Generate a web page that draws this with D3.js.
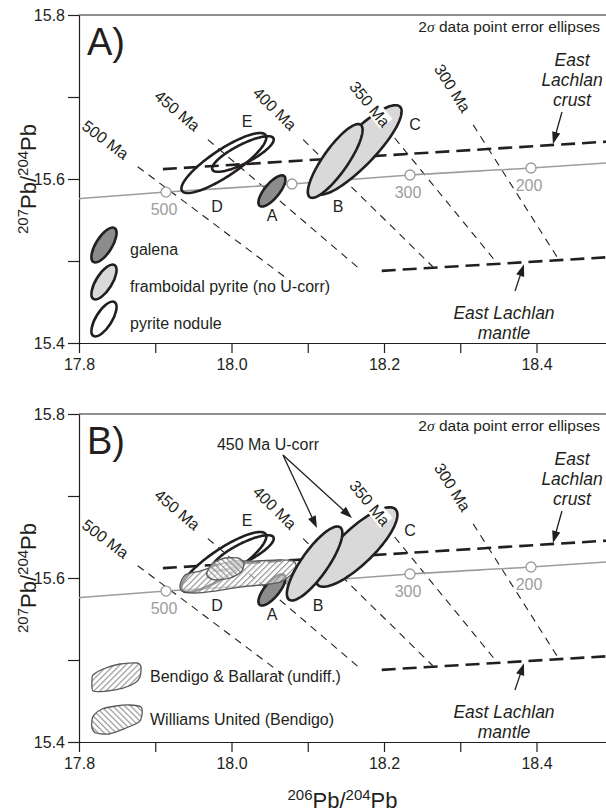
<!DOCTYPE html>
<html>
<head>
<meta charset="utf-8">
<script src="https://cdn.jsdelivr.net/npm/d3@7"></script>
<style>
  body { margin: 0; background: #fff; }
  svg { display: block; font-family: "Liberation Sans", Arial, Helvetica, sans-serif; }
</style>
</head>
<body>
<svg id="chart" width="606" height="812"></svg>
<script>
// ---------- axis ticks ----------
const xTicks = [17.8, 17.9, 18.0, 18.1, 18.2, 18.3, 18.4, 18.5];
const xTickLabels = ["17.8", "", "18.0", "", "18.2", "", "18.4", ""];
const yTicks = [15.4, 15.5, 15.6, 15.7, 15.8];
const yTickLabels = ["15.4", "", "15.6", "", "15.8"];

// ---------- Pb growth model (ages in Ma) ----------
const growthAge = [500, 400, 300, 200];
const growth206 = [17.9141, 18.0793, 18.2341, 18.3928];
const growth207 = [15.5841, 15.5939, 15.6049, 15.6134];
const growthLabelled = [true, false, true, true];
const growthEnd206 = [17.8, 18.5];
const growthEnd207 = [15.576, 15.620];

// ---------- model-age lines ----------
const isoAge = [500, 450, 400, 350, 300];
const isoUpper206 = [17.877, 17.969, 18.094, 18.214, 18.317];
const isoUpper207 = [15.615, 15.648, 15.648, 15.650, 15.666];
const isoLower206 = [18.070, 18.171, 18.264, 18.348, 18.4295];
const isoLower207 = [15.4805, 15.488, 15.493, 15.4976, 15.5012];

// ---------- East Lachlan reservoirs ----------
const crust206 = [17.910, 18.5];
const crust207 = [15.612, 15.646];
const mantle206 = [18.197, 18.5];
const mantle207 = [15.488, 15.505];

// ---------- samples (2 sigma error ellipses) ----------
const sampleName = ["D", "E", "A", "C", "B"];
const sampleType = ["nodule", "nodule", "galena", "framboidal", "framboidal"];
const pb206 = [17.990, 18.015, 18.053, 18.166, 18.136];
const pb207 = [15.6195, 15.6305, 15.5854, 15.6354, 15.6220];
const err206 = [0.0557, 0.0404, 0.0177, 0.0571, 0.0359];
const err207 = [0.0366, 0.0217, 0.0190, 0.0546, 0.0450];
const errRho = [0.85, 0.81, 0.74, 0.86, 0.84];
const label206 = [17.981, 18.0203, 18.0531, 18.2407, 18.1397];
const label207 = [15.567, 15.6707, 15.556, 15.667, 15.567];

// framboidal pyrite after 450 Ma U correction
const pb206U = [17.990, 18.015, 18.053, 18.164, 18.109];
const pb207U = [15.6195, 15.6305, 15.5854, 15.6378, 15.6177];
const err206U = [0.0557, 0.0404, 0.0177, 0.0536, 0.0364];
const err207U = [0.0366, 0.0217, 0.0190, 0.0484, 0.0451];
const errRhoU = [0.85, 0.81, 0.74, 0.81, 0.82];
const label206U = [17.981, 18.0203, 18.0531, 18.2341, 18.1134];
const label207U = [15.567, 15.6707, 15.556, 15.6585, 15.567];

// ---------- Victorian goldfield fields ----------
const bendigo206 = [17.9325, 17.9390, 17.9587, 17.9784, 18.0007, 18.0308, 18.0636, 18.0807,
                    18.0846, 18.0780, 18.0636, 18.0400, 18.0111, 17.9784, 17.9521, 17.9351];
const bendigo207 = [15.5915, 15.6037, 15.6085, 15.6146, 15.6207, 15.6207, 15.6220, 15.6207,
                    15.6146, 15.6037, 15.5951, 15.5915, 15.5890, 15.5841, 15.5817, 15.5841];
const williams206 = [17.9679, 17.9757, 17.9915, 18.0085, 18.0164, 18.0125, 17.9980, 17.9784, 17.9692];
const williams207 = [15.6073, 15.6183, 15.6244, 15.6244, 15.6183, 15.6073, 15.6000, 15.5976, 15.6012];

// ---------- annotation anchors (data units) ----------
const crustArrow206 = [18.4334, 18.4216];   // tail, tip
const crustArrowTail207 = 15.6817;
const crustText = [18.4466, 15.745];
const mantleArrow206 = [18.3718, 18.3836];  // tail, tip
const mantleArrowTail207 = 15.4634;
const mantleText = [18.3574, 15.4366];
const ucorrText = [18.0479, 15.7634];
const ucorrTail = [18.0675, 15.750];
const ucorrTips206 = [18.1121, 18.158];
const ucorrTips207 = [15.661, 15.6732];
const noteAnchor = [18.4833, 15.7854];

const legendA = ["galena", "framboidal pyrite (no U-corr)", "pyrite nodule"];
const legendAType = ["galena", "framboidal", "nodule"];
const legendB = ["Bendigo & Ballarat (undiff.)", "Williams United (Bendigo)"];

// ---------- layout ----------
const svg = d3.select("#chart");
const plotLeft = 79, plotRight = 612.75;
const x = d3.scaleLinear().domain([17.8, 18.5]).range([plotLeft, plotRight]);
const fills = { galena: "#8c8c8c", framboidal: "#d9d9d9", nodule: "none" };
const INK = "#231f20";

// hatch patterns for the goldfield fields
const defs = svg.append("defs");
function hatch(id, angle) {
  const p = defs.append("pattern").attr("id", id).attr("patternUnits", "userSpaceOnUse")
    .attr("width", 4.2).attr("height", 4.2).attr("patternTransform", `rotate(${angle})`);
  p.append("rect").attr("width", 4.2).attr("height", 4.2).attr("fill", "rgba(255,255,255,0.55)");
  p.append("line").attr("x1", 0.6).attr("y1", 0).attr("x2", 0.6).attr("y2", 4.2)
    .attr("stroke", "#8a8a8a").attr("stroke-width", 1.05);
}
hatch("hatchFwd", 45);
hatch("hatchBack", -45);

function ellipsePoints(cx, cy, sx, sy, rho, y) {
  const k = Math.sqrt(1 - rho * rho), pts = [];
  for (let i = 0; i < 120; i++) {
    const t = i / 120 * 2 * Math.PI;
    pts.push([x(cx + sx * Math.cos(t)), y(cy + sy * (rho * Math.cos(t) + k * Math.sin(t)))]);
  }
  return pts;
}
const closedLine = d3.line().curve(d3.curveLinearClosed);
const smoothClosed = d3.line().curve(d3.curveCardinalClosed.tension(0.3));

function arrow(g, x1, y1, x2, y2) {
  const dx = x2 - x1, dy = y2 - y1, L = Math.hypot(dx, dy);
  const ux = dx / L, uy = dy / L, head = 12, hw = 4.2;
  g.append("line").attr("x1", x1).attr("y1", y1)
    .attr("x2", x2 - ux * head * 0.8).attr("y2", y2 - uy * head * 0.8)
    .attr("stroke", INK).attr("stroke-width", 1.3);
  const bx = x2 - ux * head, by = y2 - uy * head;
  g.append("path")
    .attr("d", `M${x2},${y2}L${bx - uy * hw},${by + ux * hw}L${bx + uy * hw},${by - ux * hw}Z`)
    .attr("fill", INK);
}

function lineY(xs, ys, xv) {
  return ys[0] + (xv - xs[0]) * (ys[1] - ys[0]) / (xs[1] - xs[0]);
}

function isotopeTitle(sel, massA) {
  sel.append("tspan").text(massA).style("font-size", "15px").attr("dy", -8);
  sel.append("tspan").text("Pb/").attr("dy", 8);
  sel.append("tspan").text("204").style("font-size", "15px").attr("dy", -8);
  sel.append("tspan").text("Pb").attr("dy", 8);
}

function drawPanel(top, tag, corrected) {
  const bottom = top + 328;
  const y = d3.scaleLinear().domain([15.4, 15.8]).range([bottom, top]);
  const g = svg.append("g");

  // axes
  const xAxis = d3.axisBottom(x).tickValues(xTicks)
    .tickFormat((d, i) => xTickLabels[i]).tickSize(10).tickPadding(6).tickSizeOuter(0);
  const yAxis = d3.axisLeft(y).tickValues(yTicks)
    .tickFormat((d, i) => yTickLabels[i]).tickSize(11).tickPadding(3).tickSizeOuter(0);
  const gx = g.append("g").attr("transform", `translate(0,${bottom})`).call(xAxis);
  const gy = g.append("g").attr("transform", `translate(${plotLeft},0)`).call(yAxis);
  [gx, gy].forEach(a => {
    a.selectAll("path,line").attr("stroke", INK).attr("stroke-width", 1.2);
    a.selectAll("text").attr("fill", INK).style("font-size", "16px")
      .style("font-family", '"Liberation Sans", Arial, sans-serif');
  });
  g.append("line").attr("x1", plotLeft).attr("x2", plotRight)
    .attr("y1", y(15.8)).attr("y2", y(15.8)).attr("stroke", INK).attr("stroke-width", 1.2);

  // y axis title
  const yt = g.append("text")
    .attr("transform", `translate(36,${(top + bottom) / 2}) rotate(-90)`)
    .attr("text-anchor", "middle").attr("fill", INK).style("font-size", "22px");
  isotopeTitle(yt, "207");

  // panel tag
  g.append("text").attr("x", plotLeft + 8).attr("y", top + 40)
    .attr("fill", INK).style("font-size", "38px").text(tag);

  // model-age lines
  isoAge.forEach((age, i) => {
    g.append("line")
      .attr("x1", x(isoUpper206[i])).attr("y1", y(isoUpper207[i]))
      .attr("x2", x(isoLower206[i])).attr("y2", y(isoLower207[i]))
      .attr("stroke", INK).attr("stroke-width", 1.1).attr("stroke-dasharray", "7.5,6");
  });

  // crust and mantle evolution
  [[crust206, crust207], [mantle206, mantle207]].forEach(([xs, ys]) => {
    g.append("line")
      .attr("x1", x(xs[0])).attr("y1", y(ys[0])).attr("x2", x(xs[1])).attr("y2", y(ys[1]))
      .attr("stroke", INK).attr("stroke-width", 2.6).attr("stroke-dasharray", "14,7");
  });

  // growth curve
  const gc = [[growthEnd206[0], growthEnd207[0]]]
    .concat(growth206.map((v, i) => [v, growth207[i]]))
    .concat([[growthEnd206[1], growthEnd207[1]]]);
  g.append("path").attr("d", d3.line().x(d => x(d[0])).y(d => y(d[1])).curve(d3.curveMonotoneX)(gc))
    .attr("fill", "none").attr("stroke", "#9d9d9d").attr("stroke-width", 1.6);
  growthAge.forEach((age, i) => {
    g.append("circle").attr("cx", x(growth206[i])).attr("cy", y(growth207[i])).attr("r", 5)
      .attr("fill", "#fff").attr("stroke", "#9d9d9d").attr("stroke-width", 1.3);
    if (growthLabelled[i]) {
      g.append("text").attr("x", x(growth206[i]) - 2).attr("y", y(growth207[i]) + 23)
        .attr("text-anchor", "middle").attr("fill", "#9d9d9d").style("font-size", "16px").text(age);
    }
  });

  // sample ellipses
  const X = corrected ? pb206U : pb206, Y = corrected ? pb207U : pb207;
  const SX = corrected ? err206U : err206, SY = corrected ? err207U : err207;
  const R = corrected ? errRhoU : errRho;
  const drawEllipse = i => {
    g.append("path").attr("d", closedLine(ellipsePoints(X[i], Y[i], SX[i], SY[i], R[i], y)))
      .attr("fill", fills[sampleType[i]]).attr("stroke", INK).attr("stroke-width", 2.6);
  };
  [0, 1, 2].forEach(drawEllipse);

  if (corrected) {
    const fields = [[bendigo206, bendigo207, "hatchFwd"], [williams206, williams207, "hatchBack"]];
    fields.forEach(([xs, ys, pat]) => {
      g.append("path").attr("d", smoothClosed(xs.map((v, i) => [x(v), y(ys[i])])))
        .attr("fill", `url(#${pat})`).attr("stroke", "#5a5a5a").attr("stroke-width", 1.3);
    });
  }
  [3, 4].forEach(drawEllipse);

  // sample letters
  const LX = corrected ? label206U : label206, LY = corrected ? label207U : label207;
  sampleName.forEach((n, i) => {
    g.append("text").attr("x", x(LX[i])).attr("y", y(LY[i]) + 6)
      .attr("text-anchor", "middle").attr("fill", INK).style("font-size", "16px").text(n);
  });

  // model-age labels along their lines
  isoAge.forEach((age, i) => {
    const ux0 = x(isoUpper206[i]), uy0 = y(isoUpper207[i]);
    const dx = ux0 - x(isoLower206[i]), dy = uy0 - y(isoLower207[i]);
    const L = Math.hypot(dx, dy), ux = dx / L, uy = dy / L;
    const cx = ux0 + ux * 42 - uy * 2.5, cy = uy0 + uy * 42 + ux * 2.5;
    const ang = Math.atan2(-dy, -dx) * 180 / Math.PI;
    const lg = g.append("g").attr("transform", `translate(${cx},${cy}) rotate(${ang})`);
    lg.append("rect").attr("x", -26).attr("y", -8).attr("width", 52).attr("height", 16).attr("fill", "#fff");
    lg.append("text").attr("text-anchor", "middle").attr("y", 6)
      .attr("fill", INK).style("font-size", "16px").text(`${age} Ma`);
  });

  // reservoir labels and arrows
  const ct = g.append("text").attr("text-anchor", "middle").attr("fill", INK)
    .style("font-size", "17.5px").style("font-style", "italic");
  ["East", "Lachlan", "crust"].forEach((s, k) => {
    ct.append("tspan").attr("x", x(crustText[0])).attr("y", y(crustText[1]) + 6 + k * 20).text(s);
  });
  arrow(g, x(crustArrow206[0]), y(crustArrowTail207),
        x(crustArrow206[1]), y(lineY(crust206, crust207, crustArrow206[1])) - 1);

  const mt = g.append("text").attr("text-anchor", "middle").attr("fill", INK)
    .style("font-size", "17.5px").style("font-style", "italic");
  ["East Lachlan", "mantle"].forEach((s, k) => {
    mt.append("tspan").attr("x", x(mantleText[0])).attr("y", y(mantleText[1]) + 6 + k * 20).text(s);
  });
  arrow(g, x(mantleArrow206[0]), y(mantleArrowTail207),
        x(mantleArrow206[1]), y(lineY(mantle206, mantle207, mantleArrow206[1])) + 2);

  // error-ellipse note
  const nt = g.append("text").attr("x", x(noteAnchor[0])).attr("y", y(noteAnchor[1]) + 5)
    .attr("text-anchor", "end").attr("fill", INK).style("font-size", "15.5px");
  nt.append("tspan").text("2");
  nt.append("tspan").text("σ").style("font-family", '"Liberation Serif", "DejaVu Serif", serif')
    .style("font-style", "italic");
  nt.append("tspan").text(" data point error ellipses");

  // legends
  if (!corrected) {
    legendA.forEach((s, k) => {
      const cy = top + 230 + k * 37;
      g.append("ellipse").attr("cx", plotLeft + 25).attr("cy", cy).attr("rx", 20).attr("ry", 8)
        .attr("transform", `rotate(-58,${plotLeft + 25},${cy})`)
        .attr("fill", legendAType[k] === "nodule" ? "#fff" : fills[legendAType[k]])
        .attr("stroke", INK).attr("stroke-width", 2.6);
      g.append("text").attr("x", plotLeft + 51).attr("y", cy + 10)
        .attr("fill", INK).style("font-size", "16px").text(s);
    });
  } else {
    // U-corrected annotation
    g.append("text").attr("x", x(ucorrText[0])).attr("y", y(ucorrText[1]) + 6)
      .attr("text-anchor", "middle").attr("fill", INK).style("font-size", "16px").text("450 Ma U-corr");
    ucorrTips206.forEach((t, k) => {
      arrow(g, x(ucorrTail[0]), y(ucorrTail[1]), x(t), y(ucorrTips207[k]));
    });
    const glyphs = [
      [[-25, 3], [-24, -2], [-14, -8], [3, -13], [20, -14], [24, -10], [23, 0], [18, 6], [6, 11], [-10, 14], [-24, 14]],
      [[-25, 0], [-23, -5], [-15, -11], [-1, -14], [12, -15], [24, -13], [25, -5], [22, 2], [9, 8], [-8, 14], [-21, 13], [-25, 8]]
    ];
    legendB.forEach((s, k) => {
      const cx = plotLeft + 38, cy = top + 263 + k * 43;
      g.append("path").attr("d", smoothClosed(glyphs[k].map(p => [cx + p[0], cy + p[1]])))
        .attr("fill", `url(#${k === 0 ? "hatchFwd" : "hatchBack"})`)
        .attr("stroke", "#5a5a5a").attr("stroke-width", 1.3);
      g.append("text").attr("x", plotLeft + 71).attr("y", cy + 5)
        .attr("fill", INK).style("font-size", "16px").text(s);
    });
  }
}

drawPanel(15, "A)", false);
drawPanel(414, "B)", true);

// x axis title
const xt = svg.append("text").attr("x", (plotLeft + 606) / 2).attr("y", 808)
  .attr("text-anchor", "middle").attr("fill", INK).style("font-size", "22px");
isotopeTitle(xt, "206");
</script>
</body>
</html>
